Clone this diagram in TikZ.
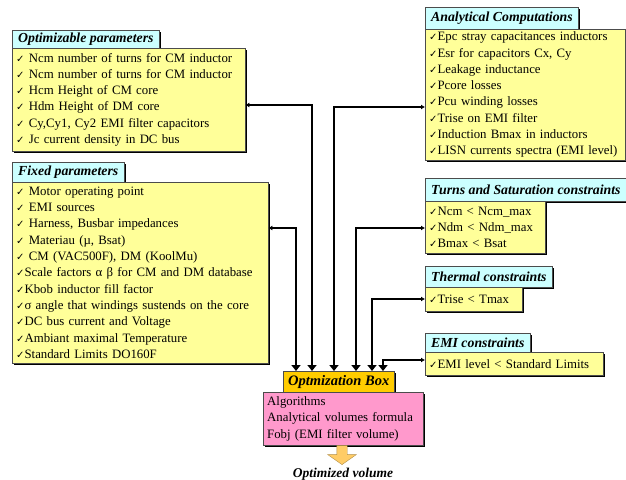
\documentclass[tikz,border=0pt]{standalone}
\usepackage{fontspec}
\setmainfont{Liberation Serif}
\newfontfamily\checkfont{DejaVu Sans}
\usepackage{tikz}
\usetikzlibrary{shapes, shapes.arrows, shadows, arrows.meta}

\definecolor{titlecyan}{HTML}{CCFFFF}
\definecolor{bodyyellow}{HTML}{FFFF99}
\definecolor{boxorange}{HTML}{FFCC00}
\definecolor{corepink}{HTML}{FF99CC}
\definecolor{arroworange}{HTML}{FFCC66}

\newcommand{\chk}{{\checkfont\fontsize{10}{10}\selectfont ✓}}

\tikzset{
    boxshadow/.style={drop shadow={shadow xshift=1.6pt, shadow yshift=-1.6pt, fill=black, opacity=1}},
    titlebox/.style={draw=black!70, fill=titlecyan, boxshadow, anchor=north west,
        inner sep=0pt, inner xsep=6pt,
        font=\bfseries\itshape\fontsize{13.8}{15}\selectfont},
    listbox/.style={draw=black!70, fill=bodyyellow, boxshadow, anchor=north west,
        inner sep=0pt, inner xsep=4pt, align=left,
        font=\fontsize{12.8}{16.3}\selectfont},
    conn/.style={line width=2.4pt, {Latex[length=4pt,width=5pt]}-{Triangle[length=6pt,width=9pt]}}
}

\begin{document}
\begin{tikzpicture}[x=1pt, y=-1pt]
    \useasboundingbox (0,0) rectangle (626,479);

    % left column
    \node[titlebox, minimum height=18pt] (opttitle) at (12,30) {Optimizable parameters};
    \node[listbox, text width=225pt, minimum height=103pt] (optbody) at (12,48) {%
        \chk\ Ncm number of turns for CM inductor\\
        \chk\ Ncm number of turns for CM inductor\\
        \chk\ Hcm Height of CM core\\
        \chk\ Hdm Height of DM core\\
        \chk\ Cy,Cy1, Cy2 EMI filter capacitors\\
        \chk\ Jc current density in DC bus};

    \node[titlebox, minimum height=20pt] (fixtitle) at (12,162) {Fixed parameters};
    \node[listbox, text width=248pt, minimum height=181pt] (fixbody) at (12,182) {%
        \chk\ Motor operating point\\
        \chk\ EMI sources\\
        \chk\ Harness, Busbar impedances\\
        \chk\ Materiau (µ, Bsat)\\
        \chk\ CM (VAC500F), DM (KoolMu)\\
        \chk Scale factors α β for CM and DM database\\
        \chk Kbob inductor fill factor\\
        \chk σ angle that windings sustends on the core\\
        \chk DC bus current and Voltage\\
        \chk Ambiant maximal Temperature\\
        \chk Standard Limits DO160F};

    % right column
    \node[titlebox, minimum height=22pt] (antitle) at (425,7) {Analytical Computations};
    \node[listbox, text width=192pt, minimum height=131pt] (anbody) at (425,29) {%
        \chk Epc stray capacitances inductors\\
        \chk Esr for capacitors Cx, Cy\\
        \chk Leakage inductance\\
        \chk Pcore losses\\
        \chk Pcu winding losses\\
        \chk Trise on EMI filter\\
        \chk Induction Bmax in inductors\\
        \chk LISN currents spectra (EMI level)};

    \node[titlebox, minimum height=23pt] (turntitle) at (425,178) {Turns and Saturation constraints};
    \node[listbox, text width=112pt, minimum height=52pt] (turnbody) at (425,201) {%
        \chk Ncm < Ncm\_max\\
        \chk Ndm < Ndm\_max\\
        \chk Bmax < Bsat};

    \node[titlebox, minimum height=21pt] (thtitle) at (425,266) {Thermal constraints};
    \node[listbox, text width=89pt, minimum height=24pt] (thbody) at (425,287) {\chk Trise < Tmax};

    \node[titlebox, minimum height=19pt] (emititle) at (425,333) {EMI constraints};
    \node[listbox, text width=170pt, minimum height=23pt] (emibody) at (425,352) {\chk EMI level < Standard Limits};

    % optimization box
    \node[draw=black!70, fill=boxorange, boxshadow, anchor=north west, inner sep=0pt,
        minimum width=111pt, minimum height=21pt,
        font=\bfseries\itshape\fontsize{14.5}{15}\selectfont] (optbox) at (283,371) {Optmization Box};
    \node[listbox, fill=corepink, text width=152pt, minimum height=53pt] (optcore) at (263,392) {%
        Algorithms\\
        Analytical volumes formula\\
        Fobj (EMI filter volume)};

    \node[single arrow, shape border rotate=270, draw=arroworange!70!black, fill=arroworange,
        inner sep=5pt, minimum height=19pt, single arrow head extend=9pt,
        single arrow tip angle=110, anchor=tail] (bigarrow) at (optcore.south -| 342,0) {};
    \node[font=\bfseries\itshape\fontsize{13.5}{14}\selectfont] (result) at (343,474) {Optimized volume};

    % connectors
    \draw[conn] (optbody.east |- 0,105) -| (312,0 |- optbox.north);
    \draw[conn] (anbody.west |- 0,107) -| (334,0 |- optbox.north);
    \draw[conn] (fixbody.east |- 0,228) -| (296,0 |- optbox.north);
    \draw[conn] (turnbody.west |- 0,228) -| (356,0 |- optbox.north);
    \draw[conn] (thbody.west |- 0,299) -| (372,0 |- optbox.north);
    \draw[conn] (emibody.west |- 0,360) -| (383,0 |- optbox.north);
\end{tikzpicture}
\end{document}
